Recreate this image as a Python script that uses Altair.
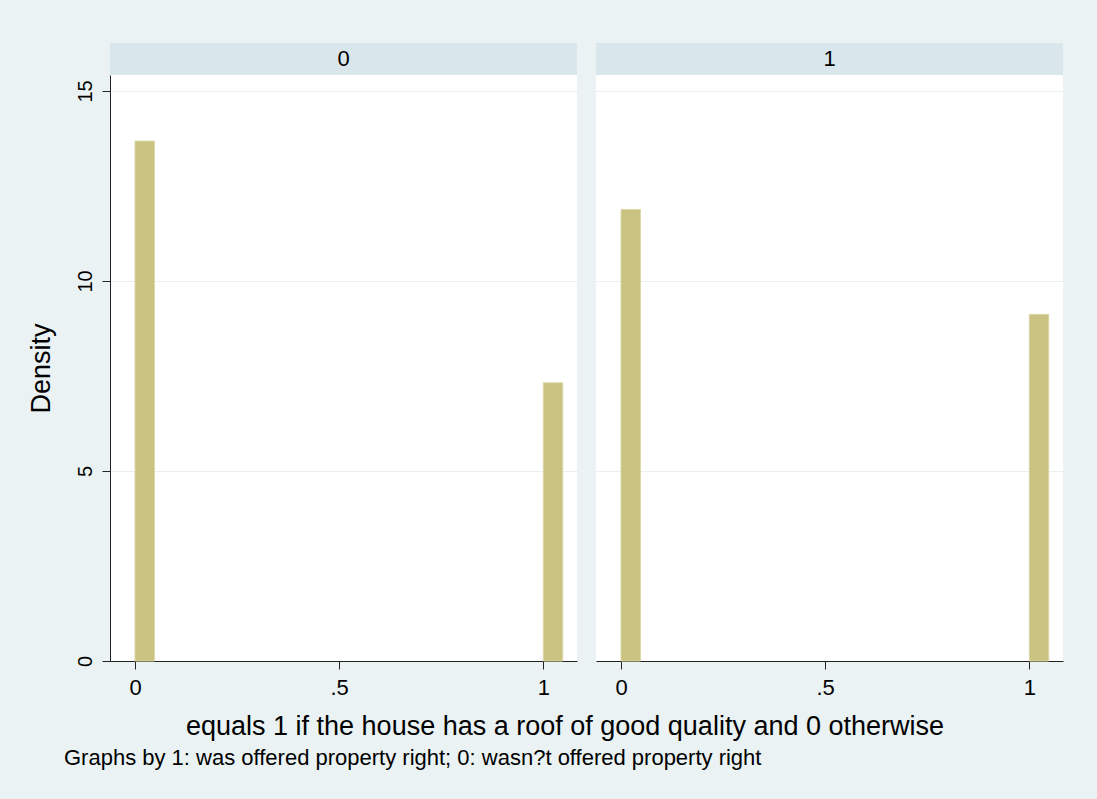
import altair as alt
import pandas as pd

# Histogram densities of roof quality (0/1), one panel per property-right group
groups = ["0", "1"]
bin_starts = [0.0, 1.0]
bin_width = 1 / 21
density_by_group = {"0": [13.68, 7.32], "1": [11.88, 9.12]}

y_ticks = [0, 5, 10, 15]
x_ticks = [0, 0.5, 1]

x_title = "equals 1 if the house has a roof of good quality and 0 otherwise"
note = "Graphs by 1: was offered property right; 0: wasn?t offered property right"

FONT = "Liberation Sans"
BAR = "#c9c280"
BAR_EDGE = "#dcd7a6"
BG = "#eaf2f3"
HEADER_BG = "#d9e6ec"
GRID = "#e8eff0"

rows = []
for g in groups:
    for s, d in zip(bin_starts, density_by_group[g]):
        rows.append({"group": g, "start": s, "density": d})
df = pd.DataFrame(rows)

PW, PH = 467, 586
x_scale = alt.Scale(domain=[-0.0613, 1.0825], nice=False, zero=False)
y_scale = alt.Scale(domain=[0, 15.42], nice=False, zero=True)


def panel(g, show_y):
    if show_y:
        y_axis = alt.Axis(
            values=y_ticks, grid=True, gridColor=GRID, gridWidth=1,
            title="Density", titleFont=FONT, titleFontSize=27,
            titleFontWeight="normal", titleColor="black", titlePadding=20,
            labelFont=FONT, labelFontSize=20, labelColor="black",
            labelAngle=270, labelAlign="center", labelBaseline="bottom",
            labelPadding=7, tickSize=8, tickColor="#222", domainColor="#222",
        )
    else:
        y_axis = alt.Axis(
            values=y_ticks, grid=True, gridColor=GRID, gridWidth=1,
            labels=False, ticks=False, domain=False, title=None,
        )
    x_axis = alt.Axis(
        values=x_ticks, grid=False, title=None,
        labelExpr="datum.value == 0.5 ? '.5' : format(datum.value, 'd')",
        labelFont=FONT, labelFontSize=22, labelColor="black",
        labelPadding=8, tickSize=8, tickColor="#222", domainColor="#222",
    )
    bars = (
        alt.Chart(df)
        .transform_filter(alt.datum.group == g)
        .transform_calculate(end=f"datum.start + {bin_width}")
        .mark_rect(color=BAR, stroke=BAR_EDGE, strokeWidth=1)
        .encode(
            x=alt.X("start:Q", scale=x_scale, axis=x_axis),
            x2="end:Q",
            y=alt.Y("density:Q", scale=y_scale, axis=y_axis),
            y2=alt.datum(0),
        )
        .properties(width=PW, height=PH,
                    view=alt.ViewBackground(fill="white", stroke=None))
    )
    header = (
        alt.Chart(pd.DataFrame({"label": [g]}))
        .mark_text(font=FONT, fontSize=22, color="black")
        .encode(text="label:N")
        .properties(width=PW, height=32,
                    view=alt.ViewBackground(fill=HEADER_BG, stroke=None))
    )
    return alt.vconcat(header, bars, spacing=0)


panels = alt.hconcat(panel("0", True), panel("1", False), spacing=19).properties(
    title=alt.TitleParams(
        x_title, orient="bottom", anchor="middle", font=FONT, fontSize=27,
        fontWeight="normal", color="black", offset=16, dx=20,
    )
)

chart = (
    alt.vconcat(panels)
    .properties(
        title=alt.TitleParams(
            note, orient="bottom", anchor="start", font=FONT, fontSize=22,
            fontWeight="normal", color="black", offset=8, dx=37,
        ),
        padding={"left": 27, "top": 43, "right": 34, "bottom": 30},
        background=BG,
    )
    .configure_view(stroke=None)
)

chart.save("out.html", embed_options={"renderer": "svg", "actions": False})
